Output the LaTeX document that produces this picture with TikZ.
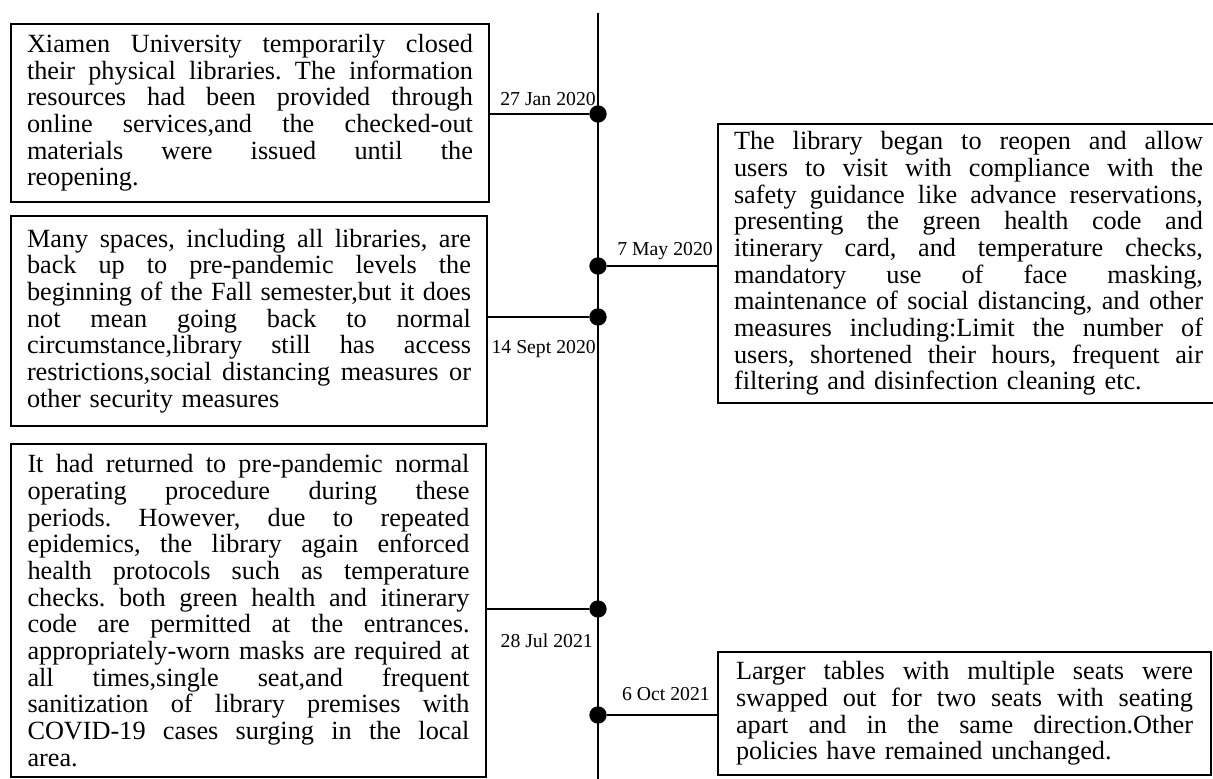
\documentclass[tikz,border=0pt]{standalone}
\usepackage{fontspec}
\setmainfont{Liberation Serif}
\frenchspacing
\newlength\bw
\newcommand\jl[1]{\hbox to\bw{\spaceskip=0.25em plus 1em minus 0.05em #1}}
\newcommand\lastl[1]{\hbox to\bw{#1\hfil}}
\begin{document}
\begin{tikzpicture}[x=0.75pt,y=-0.75pt,
  evbox/.style={draw, line width=1.7pt, inner sep=0pt, font=\fontsize{19.7}{20}\selectfont\frenchspacing},
  dot/.style={circle, fill, inner sep=0pt, minimum size=13pt},
  conn/.style={line width=1.5pt},
  datelbl/.style={inner sep=0pt, anchor=base east, font=\fontsize{14.8}{16}\selectfont}]
\useasboundingbox (0,0) rectangle (1213,778);
\clip (0,0) rectangle (1213,778);

% timeline
\coordinate (top) at (598,13);
\coordinate (bot) at (598,780);
\draw[conn] (top) -- (bot);

% left boxes
\node[evbox, text width=334.5pt, minimum width=358.5pt, minimum height=133.5pt] (b1) at (250,113) {\setlength\bw{334.5pt}%
\jl{Xiamen University temporarily closed}
\jl{their physical libraries. The information}
\jl{resources had been provided through}
\jl{online services,and the checked-out}
\jl{materials were issued until the}
\lastl{reopening.}};

\node[evbox, text width=333pt, minimum width=357pt, minimum height=157.5pt] (b2) at (249,321) {\setlength\bw{333pt}%
\jl{Many spaces, including all libraries, are}
\jl{back up to pre-pandemic levels the}
\jl{beginning of the Fall semester,but it does}
\jl{not mean going back to normal}
\jl{circumstance,library still has access}
\jl{restrictions,social distancing measures or}
\lastl{other security measures}};

\node[evbox, text width=331.5pt, minimum width=356.25pt, minimum height=249.75pt] (b3) at (248.5,610.5) {\setlength\bw{331.5pt}%
\jl{It had returned to pre-pandemic normal}
\jl{operating procedure during these}
\jl{periods. However, due to repeated}
\jl{epidemics, the library again enforced}
\jl{health protocols such as temperature}
\jl{checks. both green health and itinerary}
\jl{code are permitted at the entrances.}
\jl{appropriately-worn masks are required at}
\jl{all times,single seat,and frequent}
\jl{sanitization of library premises with}
\jl{COVID-19 cases surging in the local}
\lastl{area.}};

% right boxes
\node[evbox, text width=351.75pt, minimum width=375.75pt, minimum height=209.25pt] (r1) at (968.5,263.5) {\setlength\bw{351.75pt}%
\jl{The library began to reopen and allow}
\jl{users to visit with compliance with the}
\jl{safety guidance like advance reservations,}
\jl{presenting the green health code and}
\jl{itinerary card, and temperature checks,}
\jl{mandatory use of face masking,}
\jl{maintenance of social distancing, and other}
\jl{measures including:Limit the number of}
\jl{users, shortened their hours, frequent air}
\lastl{filtering and disinfection cleaning etc.}};

\node[evbox, text width=342.75pt, minimum width=369.75pt, minimum height=92.25pt] (r2) at (964.5,713.5) {\setlength\bw{342.75pt}%
\jl{Larger tables with multiple seats were}
\jl{swapped out for two seats with seating}
\jl{apart and in the same direction.Other}
\lastl{policies have remained unchanged.}};

% dots
\node[dot] (d1) at (598,114) {};
\node[dot] (d2) at (598,266) {};
\node[dot] (d3) at (598,317) {};
\node[dot] (d4) at (598,609) {};
\node[dot] (d5) at (598,715) {};

% connectors
\draw[conn] (b1.east |- d1) -- (d1);
\draw[conn] (b2.east |- d3) -- (d3);
\draw[conn] (b3.east |- d4) -- (d4);
\draw[conn] (d2) -- (d2 -| r1.west);
\draw[conn] (d5) -- (d5 -| r2.west);

% dates
\node[datelbl] (l1) at (596,105) {27 Jan 2020};
\node[datelbl] (l2) at (713,255) {7 May 2020};
\node[datelbl] (l3) at (596,353) {14 Sept 2020};
\node[datelbl] (l4) at (593,647) {28 Jul 2021};
\node[datelbl] (l5) at (710,700) {6 Oct 2021};
\end{tikzpicture}
\end{document}
